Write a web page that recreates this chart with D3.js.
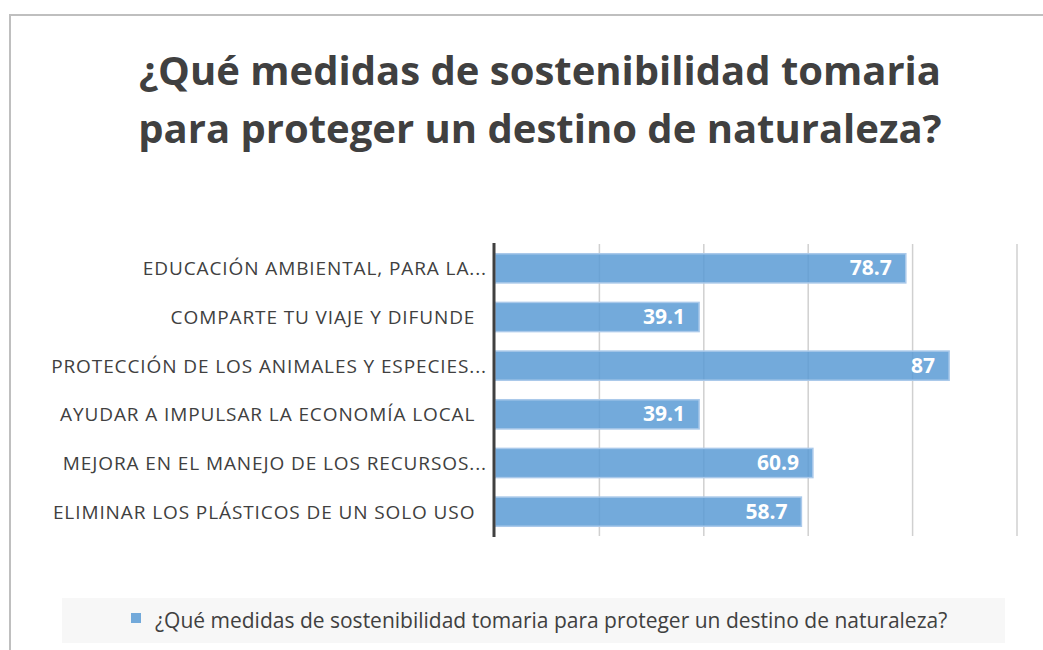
<!DOCTYPE html>
<html>
<head>
<meta charset="utf-8">
<script src="https://cdn.jsdelivr.net/npm/d3@7"></script>
<style>
  body { margin: 0; background: #fff; }
  text { font-family: "Open Sans", sans-serif; white-space: pre; }
</style>
</head>
<body>
<div id="chart"></div>
<script>
// data
var categories = [
  "EDUCACIÓN AMBIENTAL, PARA LA...",
  "COMPARTE TU VIAJE Y DIFUNDE\u00a0\u00a0",
  "PROTECCIÓN DE LOS ANIMALES Y ESPECIES...",
  "AYUDAR A IMPULSAR LA ECONOMÍA LOCAL\u00a0\u00a0",
  "MEJORA EN EL MANEJO DE LOS RECURSOS...",
  "ELIMINAR LOS PLÁSTICOS DE UN SOLO USO\u00a0\u00a0"
];
var values = [78.7, 39.1, 87, 39.1, 60.9, 58.7];
var gridTicks = [0, 20, 40, 60, 80, 100];
var titleLines = ["¿Qué medidas de sostenibilidad tomaria", "para proteger un destino de naturaleza?"];
var seriesName = "¿Qué medidas de sostenibilidad tomaria para proteger un destino de naturaleza?";

var width = 1043,
  height = 650;

var svg = d3.select('#chart')
  .append('svg')
  .attr('width', width)
  .attr('height', height);

// outer frame (only top + left visible)
svg.append('path')
  .attr('d', 'M10,' + height + 'V15H' + width)
  .attr('fill', 'none')
  .attr('stroke', '#bfbfbf')
  .attr('stroke-width', 2);

// title
svg.append('text')
  .attr('x', 540)
  .attr('y', 85)
  .attr('text-anchor', 'middle')
  .attr('fill', '#404040')
  .style('font-weight', 'bold')
  .style('font-size', '40px')
  .selectAll('tspan')
  .data(titleLines)
  .enter()
  .append('tspan')
  .attr('x', 540)
  .attr('dy', function(d, i){ return i ? 58 : 0; })
  .text(function(d){ return d; });

var x = d3.scaleLinear().domain([0, 100]).range([495, 1017]);
var y = d3.scaleBand().domain(categories).range([244, 536]).paddingInner(0.4).paddingOuter(0.2);

// gridlines
svg.append('g')
  .selectAll('line')
  .data(gridTicks.slice(1))
  .enter()
  .append('line')
  .attr('x1', function(d){ return x(d); })
  .attr('x2', function(d){ return x(d); })
  .attr('y1', 244)
  .attr('y2', 536)
  .attr('stroke', '#d0d0d0')
  .attr('stroke-width', 1.5);

// bars
svg.append('g')
  .selectAll('rect.bar')
  .data(values)
  .enter()
  .append('rect')
  .classed('bar', true)
  .attr('x', x(0))
  .attr('y', function(d, i){ return y(categories[i]); })
  .attr('width', function(d){ return x(d) - x(0); })
  .attr('height', y.bandwidth())
  .attr('fill', '#5b9bd5')
  .attr('fill-opacity', 0.85)
  .attr('stroke', '#aac9ea')
  .attr('stroke-width', 1.5);

// value labels
svg.append('g')
  .selectAll('text')
  .data(values)
  .enter()
  .append('text')
  .attr('x', function(d){ return x(d) - 14; })
  .attr('y', function(d, i){ return y(categories[i]) + y.bandwidth() / 2 + 7; })
  .attr('text-anchor', 'end')
  .attr('fill', '#fff')
  .style('font-weight', 'bold')
  .style('font-size', '21px')
  .text(function(d){ return d; });

// category axis
var yAxis = svg.append('g')
  .attr('transform', 'translate(494,0)')
  .call(d3.axisLeft(y).tickSize(0).tickPadding(7));
yAxis.select('.domain').attr('stroke', '#404040').attr('stroke-width', 3).attr('d', 'M0,243V537');
yAxis.selectAll('text')
  .attr('fill', '#404040')
  .attr('dy', '0.36em')
  .style('font-size', '19px')
  .style('letter-spacing', '0.9px')
  .style('font-family', '"Open Sans", sans-serif');

// legend
svg.append('rect')
  .attr('x', 62).attr('y', 598)
  .attr('width', 943).attr('height', 45)
  .attr('fill', '#f7f7f7');
svg.append('rect')
  .attr('x', 131).attr('y', 613)
  .attr('width', 10).attr('height', 10)
  .attr('fill', '#5b9bd5').attr('fill-opacity', 0.85);
svg.append('text')
  .attr('x', 155).attr('y', 628)
  .attr('fill', '#404040')
  .style('font-size', '21px')
  .text(seriesName);
</script>
</body>
</html>
